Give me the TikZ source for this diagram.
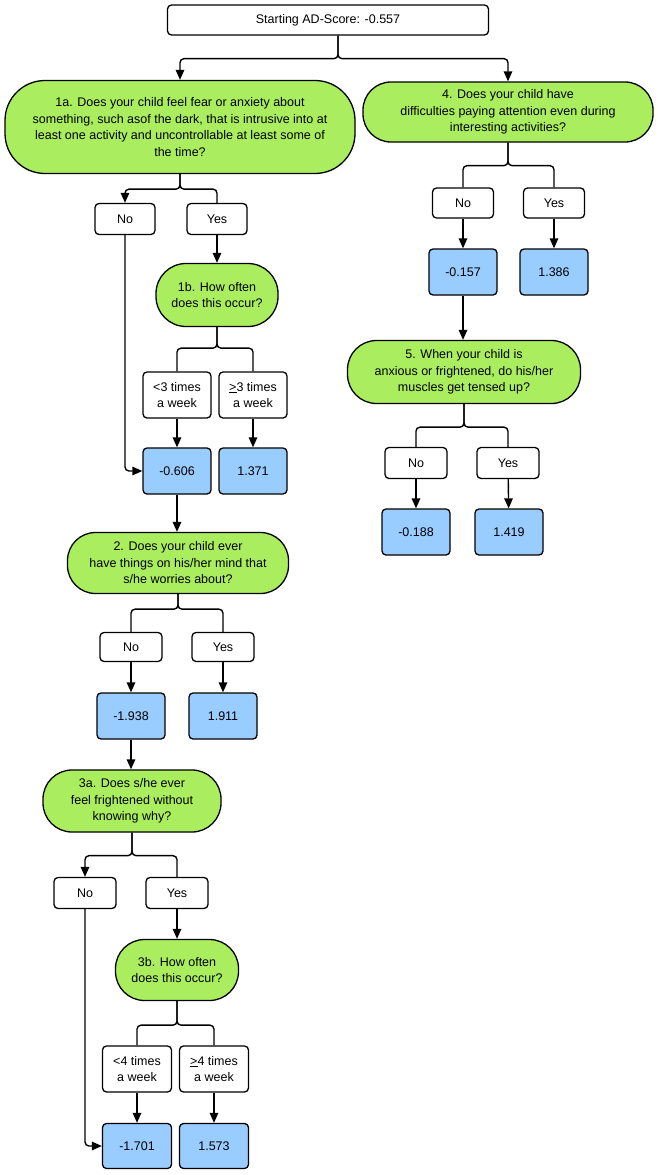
\documentclass[tikz,border=0pt]{standalone}
\usepackage{fontspec}
\setmainfont{Liberation Sans}
\usetikzlibrary{arrows.meta,positioning}

\definecolor{qgreen}{RGB}{170,238,95}
\definecolor{sblue}{RGB}{153,204,255}

\begin{document}
\begin{tikzpicture}[
    x=1pt, y=-1pt,
    every node/.style={font=\fontsize{12.5}{16.5}\selectfont, inner sep=0pt, align=center},
    question/.style={draw, line width=1.3pt, fill=qgreen, rounded corners=#1},
    question/.default=29pt,
    answer/.style={draw, line width=1.3pt, fill=white, rounded corners=4pt},
    score/.style={draw, line width=1.3pt, fill=sblue, rounded corners=4pt, minimum width=68pt, minimum height=46pt},
    link/.style={line width=1.4pt, rounded corners=4pt},
    arrow/.style={link, -{Triangle[length=10pt,width=8.5pt]}}
]
    \useasboundingbox (0,0) rectangle (658,1175);

    % Start
    \node[answer, minimum width=321pt, minimum height=30pt] (start) at (328,20) {Starting AD-Score: -0.557};

    % Question 1a and its branch
    \node[question=40pt, minimum width=350pt, minimum height=93pt] (q1a) at (180,127)
        {1a. Does your child feel fear or anxiety about\\something, such asof the dark, that is intrusive into at\\least one activity and uncontrollable at least some of\\the time?};
    \node[answer, minimum width=60pt, minimum height=31pt] (no1) at (125,219) {No};
    \node[answer, minimum width=60pt, minimum height=31pt] (yes1) at (217,219) {Yes};
    \node[question=30pt, minimum width=122pt, minimum height=63pt] (q1b) at (217,295) {1b. How often\\does this occur?};
    \node[answer, minimum width=68pt, minimum height=46pt] (lt3) at (177,395) {<3 times\\a week};
    \node[answer, minimum width=68pt, minimum height=46pt] (ge3) at (253,395) {\underline{>}3 times\\a week};
    \node[score] (s0606) at (177,471) {-0.606};
    \node[score] (s1371) at (253,471) {1.371};

    % Question 2
    \node[question=28pt, minimum width=221pt, minimum height=61pt] (q2) at (178,563)
        {2. Does your child ever\\have things on his/her mind that\\s/he worries about?};
    \node[answer, minimum width=62pt, minimum height=29pt] (no2) at (131,647) {No};
    \node[answer, minimum width=62pt, minimum height=29pt] (yes2) at (223,647) {Yes};
    \node[score] (s1938) at (131,716) {-1.938};
    \node[score] (s1911) at (223,716) {1.911};

    % Question 3a and its branch
    \node[question, minimum width=178pt, minimum height=62pt] (q3a) at (132,801)
        {3a. Does s/he ever\\feel frightened without\\knowing why?};
    \node[answer, minimum width=62pt, minimum height=31pt] (no3) at (85,893) {No};
    \node[answer, minimum width=62pt, minimum height=31pt] (yes3) at (177,893) {Yes};
    \node[question, minimum width=123pt, minimum height=61pt] (q3b) at (177,970) {3b. How often\\does this occur?};
    \node[answer, minimum width=69pt, minimum height=46pt] (lt4) at (137,1069) {<4 times\\a week};
    \node[answer, minimum width=69pt, minimum height=46pt] (ge4) at (214,1069) {\underline{>}4 times\\a week};
    \node[score, minimum width=69pt, minimum height=45pt] (s1701) at (137,1146) {-1.701};
    \node[score, minimum width=69pt, minimum height=45pt] (s1573) at (214,1146) {1.573};

    % Question 4
    \node[question=28pt, minimum width=290pt, minimum height=60pt] (q4) at (508,112)
        {4. Does your child have\\difficulties paying attention even during\\interesting activities?};
    \node[answer, minimum width=61pt, minimum height=30pt] (no4) at (463,203) {No};
    \node[answer, minimum width=61pt, minimum height=30pt] (yes4) at (554,203) {Yes};
    \node[score] (s0157) at (463,272) {-0.157};
    \node[score] (s1386) at (554,272) {1.386};

    % Question 5
    \node[question, minimum width=233pt, minimum height=63pt] (q5) at (464,372)
        {5. When your child is\\anxious or frightened, do his/her\\muscles get tensed up?};
    \node[answer, minimum width=62pt, minimum height=31pt] (no5) at (416,463) {No};
    \node[answer, minimum width=62pt, minimum height=31pt] (yes5) at (508,463) {Yes};
    \node[score] (s0188) at (416,532) {-0.188};
    \node[score] (s1419) at (509,532) {1.419};

    % Connectors
    \draw[arrow] ([xshift=10pt]start.south) -- ++(0,23) -| (q1a.north);
    \draw[arrow] ([xshift=10pt]start.south) -- ++(0,23) -| (q4.north);

    \draw[arrow] (q1a.south) -- ++(0,15) -| (no1.north);
    \draw[link] (q1a.south) -- ++(0,15) -| (yes1.north);
    \draw[arrow] (yes1) -- (q1b);
    \draw[link] (q1b.south) -- ++(0,21) -| (lt3.north);
    \draw[link] (q1b.south) -- ++(0,21) -| (ge3.north);
    \draw[arrow] (lt3) -- (s0606);
    \draw[arrow] (ge3) -- (s1371);
    \draw[arrow] (no1.south) |- (s0606.west);
    \draw[arrow] (s0606.south) -- (s0606.south |- q2.north);

    \draw[link] (q2.south) -- ++(0,15) -| (no2.north);
    \draw[link] (q2.south) -- ++(0,15) -| (yes2.north);
    \draw[arrow] (no2) -- (s1938);
    \draw[arrow] (yes2) -- (s1911);
    \draw[arrow] (s1938.south) -- (s1938.south |- q3a.north);

    \draw[arrow] (q3a.south) -- ++(0,23) -| (no3.north);
    \draw[link] (q3a.south) -- ++(0,23) -| (yes3.north);
    \draw[arrow] (yes3) -- (q3b);
    \draw[link] (q3b.south) -- ++(0,24) -| (lt4.north);
    \draw[link] (q3b.south) -- ++(0,24) -| (ge4.north);
    \draw[arrow] (lt4) -- (s1701);
    \draw[arrow] (ge4) -- (s1573);
    \draw[arrow] (no3.south) |- (s1701.west);

    \draw[link] (q4.south) -- ++(0,23) -| (no4.north);
    \draw[link] (q4.south) -- ++(0,23) -| (yes4.north);
    \draw[arrow] (no4) -- (s0157);
    \draw[arrow] (yes4) -- (s1386);
    \draw[arrow] (s0157.south) -- (s0157.south |- q5.north);

    \draw[link] (q5.south) -- ++(0,23) -| (no5.north);
    \draw[link] (q5.south) -- ++(0,23) -| (yes5.north);
    \draw[arrow] (no5) -- (s0188);
    \draw[arrow] (yes5) -- (s1419);
\end{tikzpicture}
\end{document}
